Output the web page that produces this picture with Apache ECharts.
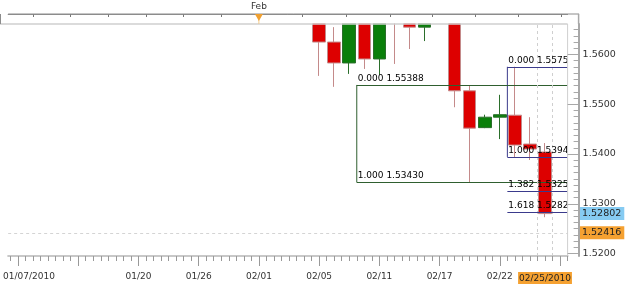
<!DOCTYPE html>
<html>
<head>
<meta charset="utf-8">
<script src="https://cdn.jsdelivr.net/npm/echarts@6/dist/echarts.min.js"></script>
<style>
  html, body { margin: 0; padding: 0; background: #fff; }
  #chart { width: 625px; height: 287px; }
</style>
</head>
<body>
<div id="chart"></div>
<script>
  // trading days (bottom axis); day i spans [i, i + 1] on the x axis
  const dates = [
    '01/06', '01/07', '01/08', '01/11', '01/12', '01/13', '01/14', '01/15', '01/19', '01/20',
    '01/21', '01/22', '01/25', '01/26', '01/27', '01/28', '01/29', '02/01', '02/02', '02/03',
    '02/04', '02/05', '02/08', '02/09', '02/10', '02/11', '02/12', '02/15', '02/16', '02/17',
    '02/18', '02/19', '02/21', '02/22', '02/23', '02/24', '02/25', '02/26'
  ];
  const year = '2010';
  const shownDates = ['01/07', '01/20', '01/26', '02/01', '02/05', '02/11', '02/17', '02/22'];
  const cursorDate = '02/25';

  // GBP/USD daily, January candles sit above the visible range
  const hidden = Array(21).fill(null);
  const opens  = [...hidden, 1.5682, 1.5625, 1.5583, 1.5688, 1.5591, 1.5715, 1.5668, 1.5655, null, 1.5678, 1.5527, 1.5453, 1.5474, 1.5478, 1.5420, 1.5404, null];
  const closes = [...hidden, 1.5625, 1.5583, 1.5672, 1.5591, 1.5685, 1.5672, 1.5655, 1.5668, null, 1.5527, 1.5452, 1.5474, 1.5479, 1.5418, 1.5410, 1.52802, null];
  const lows   = [...hidden, 1.5557, 1.5535, 1.5561, 1.5571, 1.5559, 1.5581, 1.5611, 1.5627, null, 1.5494, 1.5343, 1.5452, 1.5430, 1.53941, 1.5388, 1.5273, null];
  const highs  = [...hidden, 1.5695, 1.5655, 1.5690, 1.5702, 1.5712, 1.5738, 1.5672, 1.5675, null, 1.5690, 1.5537, 1.5479, 1.5519, 1.55753, 1.5474, 1.5422, null];

  // fibonacci drawings (x in day units, 24 = left edge of 02/10)
  const fibAStart = 24;
  const fibARatios = ['0.000', '1.000'];
  const fibAPrices = [1.55388, 1.53430];
  const fibBStart = 34;
  const fibBRatios = ['0.000', '1.000', '1.382', '1.618'];
  const fibBPrices = [1.55753, 1.53941, 1.53250, 1.52822];

  const lastPrice = 1.52802;
  const cursorPrice = 1.52416;

  // axes
  const xMin = 0.85, xMax = dates.length;
  const yMin = 1.5195, yMax = 1.56613;
  const yLabels = [1.52, 1.53, 1.54, 1.55, 1.56];
  const yMinorStep = 0.00125;
  const topTicks = [2.5, 5, 7.5, 10, 12.5, 15, 17.5, 20.35, 23.3, 26.2, 29.0, 31.9, 34.75, 37.6];
  const topLabelAt = 17.5;
  const topLabel = 'Feb';

  const font = 'DejaVu Sans';
  const txt = '#333';
  const green = '#2f5f2f';
  const navy = '#3a3a8c';

  const yMinor = [];
  for (let v = yLabels[0]; v < yMax; v += yMinorStep) yMinor.push(+v.toFixed(5));
  const xMinor = [];
  for (let v = 1; v <= xMax; v += 0.5) xMinor.push(v);
  const xMajor = dates.map((d, i) => i + 0.5).filter((v, i) => i % 4 === 1);
  const xLabelAt = dates.map((d, i) => i + 0.5).filter((v, i) => shownDates.includes(dates[i]) || dates[i] === cursorDate);
  const cursorDay = dates.indexOf(cursorDate);

  const candles = [];
  dates.forEach((d, i) => {
    if (opens[i] != null) candles.push([i + 0.5, opens[i], closes[i], lows[i], highs[i]]);
  });

  function fibLines(start, ratios, prices, clip) {
    return prices.map((p, i) => [
      {
        coord: [start, p],
        label: Object.assign({
          show: true, position: 'insideStartTop', distance: [1, 2],
          formatter: ratios[i] + ' ' + p.toFixed(5),
          color: '#000', fontFamily: font, fontSize: 9
        }, clip ? { width: 62, overflow: 'truncate', ellipsis: '' } : {})
      },
      { coord: [xMax, p] }
    ]);
  }

  const chart = echarts.init(document.getElementById('chart'));

  const option = {
    animation: false,
    backgroundColor: '#fff',
    grid: { left: 0, right: 57.4, top: 24, bottom: 31 },
    xAxis: [
      {
        type: 'value', min: xMin, max: xMax, position: 'bottom', z: 20,
        axisLine: { lineStyle: { color: '#c8c8c8', width: 2 } },
        axisTick: { length: 10, customValues: xMajor, lineStyle: { color: '#999' } },
        axisLabel: {
          customValues: xLabelAt,
          margin: 16, color: txt, fontFamily: font, fontSize: 9,
          formatter: (v) => {
            const d = dates[Math.floor(v)];
            if (d === cursorDate) return '{hl|' + d + '/' + year + '}';
            if (d === shownDates[0]) return '{first|' + d + '/' + year + '}';
            return d;
          },
          rich: {
            hl: { backgroundColor: '#f5a131', color: '#222', padding: [2, 1, 1, 1], fontFamily: font, fontSize: 9 },
            first: { padding: [0, 0, 0, 22], color: txt, fontFamily: font, fontSize: 9 }
          }
        },
        splitLine: { show: false }
      },
      {
        type: 'value', min: xMin, max: xMax, position: 'bottom', z: 20,
        axisLine: { show: false },
        axisTick: { length: 5, customValues: xMinor, lineStyle: { color: '#999' } },
        axisLabel: { show: false },
        splitLine: { show: false }
      },
      {
        type: 'value', min: xMin, max: xMax, position: 'top', offset: 10, z: 20,
        axisLine: { lineStyle: { color: '#8c8c8c', width: 1 } },
        axisTick: { inside: true, length: 3, customValues: topTicks, lineStyle: { color: '#777' } },
        axisLabel: { customValues: [topLabelAt], formatter: () => topLabel, margin: 3, color: txt, fontFamily: font, fontSize: 9 },
        splitLine: { show: false }
      }
    ],
    yAxis: [
      {
        type: 'value', position: 'right', offset: 11, min: yMin, max: yMax, z: 20,
        axisLine: { show: true, lineStyle: { color: '#a8a8a8', width: 2 } },
        axisTick: { show: true, inside: true, length: 11, customValues: yLabels, lineStyle: { color: '#a8a8a8' } },
        axisLabel: { customValues: yLabels, formatter: (v) => v.toFixed(4), margin: 4, color: txt, fontFamily: font, fontSize: 9.5 },
        splitLine: { show: false }
      },
      {
        type: 'value', position: 'right', offset: 11, min: yMin, max: yMax, z: 20,
        axisLine: { show: false },
        axisTick: { show: true, inside: true, length: 5, customValues: yMinor, lineStyle: { color: '#a8a8a8' } },
        axisLabel: { show: false },
        splitLine: { show: false }
      }
    ],
    series: [
      {
        name: 'Fib A', type: 'line', xAxisIndex: 0, yAxisIndex: 0, z: 1,
        data: [[fibAStart, fibAPrices[0]], [fibAStart, fibAPrices[fibAPrices.length - 1]]],
        symbol: 'none', lineStyle: { color: green, width: 1 },
        markLine: {
          silent: true, symbol: ['none', 'none'], precision: 5,
          lineStyle: { color: green, width: 1, type: 'solid' },
          data: [
            ...fibLines(fibAStart, fibARatios, fibAPrices, false),
            { xAxis: cursorDay, lineStyle: { color: '#cfcfcf', type: [3, 3], width: 1 }, label: { show: false } },
            { xAxis: cursorDay + 1, lineStyle: { color: '#cfcfcf', type: [3, 3], width: 1 }, label: { show: false } },
            {
              yAxis: cursorPrice, lineStyle: { color: '#d4d4d4', type: [3, 3], width: 1 },
              label: { show: true, position: 'end', distance: 12.4, formatter: cursorPrice.toFixed(5),
                backgroundColor: '#f5a131', color: '#222', padding: [2, 3, 1, 2], fontFamily: font, fontSize: 9.5 }
            },
            {
              yAxis: lastPrice, lineStyle: { color: 'rgba(0,0,0,0)', width: 1 },
              label: { show: true, position: 'end', distance: 12.4, formatter: lastPrice.toFixed(5),
                backgroundColor: '#86cbf2', color: '#222', padding: [2, 3, 1, 2], fontFamily: font, fontSize: 9.5 }
            }
          ]
        }
      },
      {
        name: 'Fib B', type: 'line', xAxisIndex: 0, yAxisIndex: 0, z: 1,
        data: [[fibBStart, fibBPrices[0]], [fibBStart, fibBPrices[1]]],
        symbol: 'none', lineStyle: { color: navy, width: 1 },
        markLine: {
          silent: true, symbol: ['none', 'none'], precision: 5,
          lineStyle: { color: navy, width: 1, type: 'solid' },
          data: fibLines(fibBStart, fibBRatios, fibBPrices, true)
        }
      },
      {
        name: 'GBP/USD', type: 'candlestick', xAxisIndex: 0, yAxisIndex: 0, z: 3,
        data: candles, barWidth: 13,
        encode: { x: 0, y: [1, 2, 3, 4] },
        itemStyle: {
          color: '#0a7f0a', borderColor: '#2b6e2b',
          color0: '#dd0000', borderColor0: '#c48a8a', borderWidth: 1
        }
      }
    ]
  };

  chart.setOption(option);

  // white strip above the plot hides the parts of candles beyond the top; frame and month marker
  const fx = chart.convertToPixel({ xAxisIndex: 2 }, topLabelAt);
  const gr = chart.getModel().getComponent('grid', 0).coordinateSystem.getRect();
  const right = gr.x + gr.width;
  chart.setOption({
    graphic: [
      { type: 'rect', z: 10, shape: { x: 0, y: 0, width: right, height: gr.y - 0.5 }, style: { fill: '#fff' } },
      { type: 'line', z: 11, shape: { x1: 0, y1: gr.y, x2: right, y2: gr.y }, style: { stroke: '#cfcfcf', lineWidth: 1.5 } },
      { type: 'line', z: 11, shape: { x1: right, y1: gr.y, x2: right, y2: gr.y + gr.height }, style: { stroke: '#cfcfcf', lineWidth: 1 } },
      { type: 'line', z: 30, shape: { x1: 0.5, y1: gr.y - 10, x2: 0.5, y2: gr.y }, style: { stroke: '#8c8c8c', lineWidth: 1 } },
      { type: 'line', z: 30, shape: { x1: gr.x, y1: gr.y - 10, x2: right + 11.5, y2: gr.y - 10 }, style: { stroke: '#8c8c8c', lineWidth: 1 } },
      { type: 'line', z: 30, shape: { x1: right + 11, y1: gr.y - 10, x2: right + 11, y2: gr.y }, style: { stroke: '#a8a8a8', lineWidth: 1.5 } },
      { type: 'line', z: 30, shape: { x1: fx, y1: 19, x2: fx, y2: gr.y }, style: { stroke: '#f3cc8e', lineWidth: 1 } },
      { type: 'polygon', z: 31, shape: { points: [[fx - 4, gr.y - 10], [fx + 4, gr.y - 10], [fx, gr.y - 3]] }, style: { fill: '#f0a030' } }
    ]
  });
</script>
</body>
</html>
